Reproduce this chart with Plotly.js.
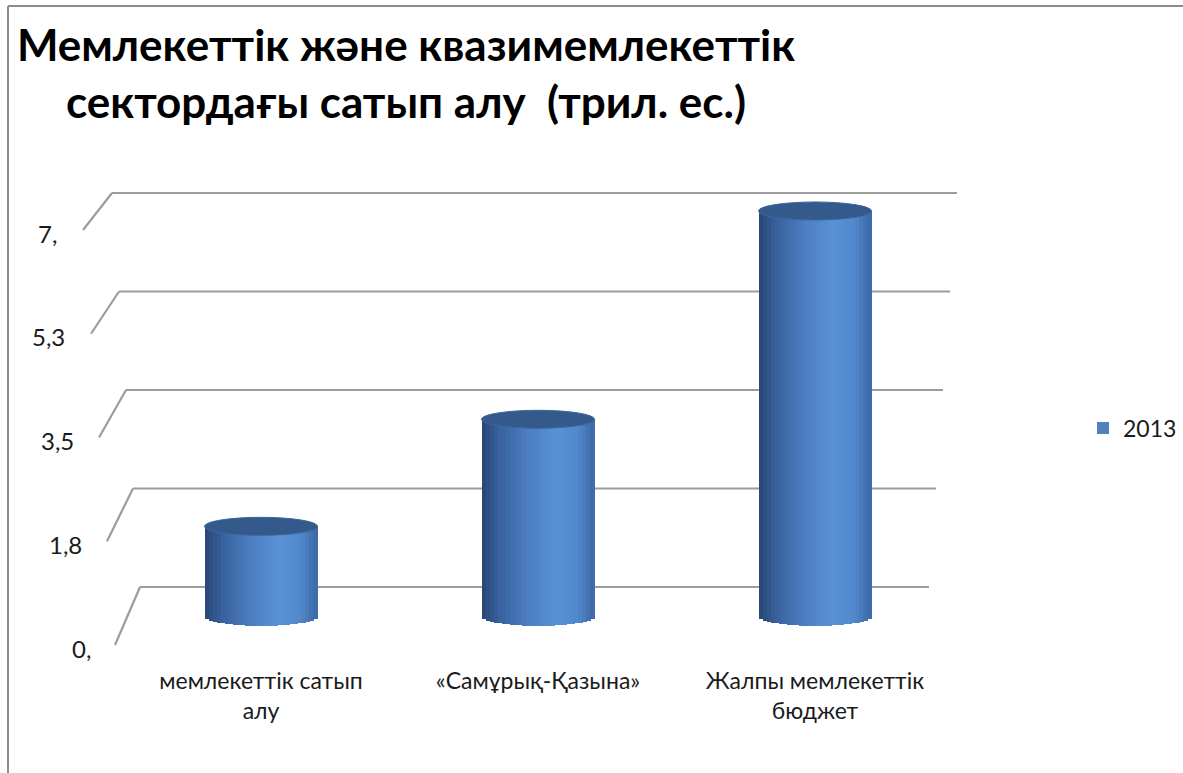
<!DOCTYPE html>
<html>
<head>
<meta charset="utf-8">
<script src="https://cdn.plot.ly/plotly-3.0.1.min.js"></script>
<style>html,body{margin:0;padding:0;background:#fff;}#chart{width:1183px;height:773px;}</style>
</head>
<body>
<div id="chart"></div>
<script>
// ---- data ----
const categories = ["мемлекеттік сатып<br>алу", "«Самұрық-Қазына»", "Жалпы мемлекеттік<br>бюджет"];
const values2013 = [1.55, 3.4, 7.0];
const seriesName = "2013";
const tickVals = [0, 1.75, 3.5, 5.25, 7];
const tickText = ["0,", "1,8", "3,5", "5,3", "7,"];
const chartTitle = "Мемлекеттік және квазимемлекеттік<br>сектордағы сатып алу  (трил. ес.)";

// ---- layout geometry (pixels) ----
const W = 1183, H = 773;
const plotBottom = 650;            // pixel of plot-area bottom
const PX0 = 616, PXU = 57.86;      // pixel of y=0 on the cylinder plane, px per unit
const yRange = [(PX0 - plotBottom) / PXU, PX0 / PXU];
const XC0 = 261, XCU = 277;        // pixel of first category centre, px per category
const xRange = [-XC0 / XCU, (W - XC0) / XCU];
const barW = 113 / XCU;
const FONT = "Lato, 'Open Sans', sans-serif";

const pxToY = p => (PX0 - p) / PXU;
const pxToPaperX = p => p / W;
const pxToPaperY = p => (plotBottom - p) / plotBottom;

// perspective of the back wall and of the front label plane
const backPx = v => 587 - (587 - 193) / 7 * v;
const frontPx = v => 645 - (645 - 230) / 7 * v;
const gridStart = v => 140 - 4 * v;
const gridEnd = v => 929 + 4 * v;
const footX = v => 115 - 4.57 * v;
const labelRight = v => 93 - 4.86 * v;

// ---- cylinder shading ----
const stops = [[0, [40, 70, 116]], [0.15, [56, 97, 156]], [0.4, [75, 125, 192]],
               [0.65, [90, 146, 215]], [0.85, [82, 136, 204]], [1, [60, 104, 166]]];
function shade(t) {
  for (let i = 1; i < stops.length; i++) {
    if (t <= stops[i][0]) {
      const a = stops[i - 1], b = stops[i];
      const f = (t - a[0]) / (b[0] - a[0]);
      const c = a[1].map((v, k) => Math.round(v + (b[1][k] - v) * f));
      return `rgb(${c[0]},${c[1]},${c[2]})`;
    }
  }
  return "rgb(60,104,166)";
}

const traces = [{
  type: "bar", x: categories, y: values2013, name: seriesName,
  width: barW, marker: {color: "#4F81BD", line: {width: 0}},
  showlegend: true, hoverinfo: "x+y"
}];
const N = 28, hb = 10 / PXU;
for (let k = 0; k < N; k++) {
  const u = ((k + 0.5) / N) * 2 - 1;
  const base = -hb * Math.sqrt(Math.max(0, 1 - u * u));
  const col = shade((k + 0.5) / N);
  traces.push({
    type: "bar", x: categories, y: values2013.map(v => v - base), base: base,
    width: barW / N + 0.0015, offset: -barW / 2 + k * barW / N,
    marker: {color: col, line: {width: 0}}, showlegend: false, hoverinfo: "skip"
  });
}

// ---- shapes ----
const shapes = [];
// back-wall grid lines with perspective connectors
tickVals.forEach(v => {
  const by = pxToY(backPx(v)), fy = pxToY(frontPx(v));
  shapes.push({type: "line", layer: "below", xref: "paper", yref: "y",
    x0: pxToPaperX(gridStart(v)), x1: pxToPaperX(gridEnd(v)), y0: by, y1: by,
    line: {color: "#9c9c9c", width: 2.2}});
  shapes.push({type: "line", layer: "below", xref: "paper", yref: "y",
    x0: pxToPaperX(gridStart(v)), x1: pxToPaperX(footX(v)), y0: by, y1: fy,
    line: {color: "#9c9c9c", width: 2.2}});
});
// cylinder top ellipses
const ht = 9 / PXU;
values2013.forEach((v, i) => {
  shapes.push({type: "circle", layer: "above", xref: "x", yref: "y",
    x0: i - barW / 2, x1: i + barW / 2, y0: v - ht, y1: v + ht,
    fillcolor: "#34598b", line: {color: "#3d669c", width: 1}});
});
// chart border (top and left)
shapes.push({type: "line", xref: "paper", yref: "paper", x0: pxToPaperX(8), x1: 1.01,
  y0: pxToPaperY(6), y1: pxToPaperY(6), line: {color: "#8c8c8c", width: 2}});
shapes.push({type: "line", xref: "paper", yref: "paper", x0: pxToPaperX(8), x1: pxToPaperX(8),
  y0: pxToPaperY(6), y1: pxToPaperY(H + 5), line: {color: "#8c8c8c", width: 2}});

// ---- y tick labels (perspective, as annotations) ----
const annotations = tickVals.map((v, i) => ({
  xref: "paper", yref: "y", x: pxToPaperX(labelRight(v)), y: pxToY(frontPx(v) + 3),
  xanchor: "right", yanchor: "middle", showarrow: false, text: tickText[i],
  font: {family: FONT, size: 24, color: "#1a1a1a"}
}));

const layout = {
  width: W, height: H,
  margin: {l: 0, r: 0, t: 0, b: H - plotBottom, pad: 0},
  paper_bgcolor: "#fff", plot_bgcolor: "rgba(0,0,0,0)",
  barmode: "overlay", bargap: 0,
  title: {text: chartTitle, xref: "paper", yref: "container", x: 406 / W, xanchor: "center",
    y: 1 - 61 / H, yanchor: "top", font: {family: FONT, size: 44, color: "#000", weight: "bold"}},
  xaxis: {type: "category", range: xRange, showgrid: false, zeroline: false, showline: false,
    ticks: "", ticklabelstandoff: 15, fixedrange: true,
    tickfont: {family: FONT, size: 23, color: "#1a1a1a"}},
  yaxis: {range: yRange, visible: false, fixedrange: true},
  legend: {x: 1083 / W, xanchor: "left", y: pxToPaperY(428), yanchor: "middle",
    font: {family: FONT, size: 23, color: "#1a1a1a"}, bgcolor: "rgba(0,0,0,0)",
    itemwidth: 30},
  shapes: shapes,
  annotations: annotations,
  showlegend: true
};

Plotly.newPlot("chart", traces, layout, {displayModeBar: false, staticPlot: true});
</script>
</body>
</html>
